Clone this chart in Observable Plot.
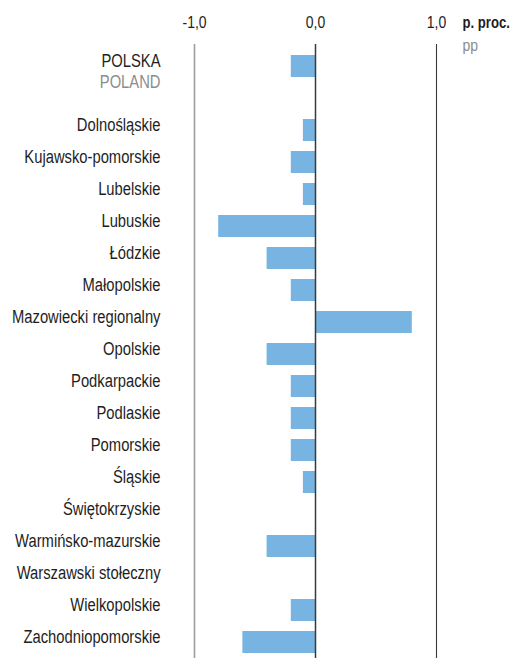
<!DOCTYPE html>
<html>
<head>
<meta charset="utf-8">
<script src="https://cdn.jsdelivr.net/npm/d3@7"></script>
<script src="https://cdn.jsdelivr.net/npm/@observablehq/plot@0.6"></script>
<style>
  html, body { margin: 0; padding: 0; background: #fff; }
  #chart svg { display: block; }
</style>
</head>
<body>
<div id="chart"></div>
<script>
const categories = ["POLSKA", " ", "Dolnośląskie", "Kujawsko-pomorskie", "Lubelskie", "Lubuskie", "Łódzkie",
  "Małopolskie", "Mazowiecki regionalny", "Opolskie", "Podkarpackie", "Podlaskie", "Pomorskie",
  "Śląskie", "Świętokrzyskie", "Warmińsko-mazurskie", "Warszawski stołeczny", "Wielkopolskie",
  "Zachodniopomorskie"];
const values = [-0.2, null, -0.1, -0.2, -0.1, -0.8, -0.4, -0.2, 0.8, -0.4, -0.2, -0.2, -0.2,
  -0.1, 0.0, -0.4, 0.0, -0.2, -0.6];
const xTicks = [-1, 0, 1];
const unitLabel = "p. proc.";
const unitLabelEn = "pp";
const polandLabel = "POLAND";

const data = categories.map((c, i) => ({name: c, value: values[i]})).filter(d => d.value != null && d.value !== 0);

const font = "'Liberation Sans', Arial, sans-serif";
const step = 32.5, pad = 0.323;
const r0 = 61 - step * (0.5 + pad / 2);
const r1 = r0 + step * (categories.length + pad);

const chart = Plot.plot({
  width: 512,
  height: 658,
  marginLeft: 194,
  marginRight: 76,
  marginTop: 44,
  marginBottom: 0,
  style: {fontFamily: font, fontSize: "17px", color: "#1e1e1e", background: "#fff"},
  x: {domain: [-1, 1], axis: null},
  y: {domain: categories, range: [r0, r1], padding: pad, axis: null},
  marks: [
    Plot.barX(data, {x: "value", y: "name", fill: "#77b4e2"}),
    Plot.ruleX([xTicks[0]], {stroke: "#9d9d9d", strokeWidth: 1.6}),
    Plot.ruleX([xTicks[1]], {stroke: "#3a3a3a", strokeWidth: 1.5}),
    Plot.ruleX([xTicks[2]], {stroke: "#3a3a3a", strokeWidth: 1.1}),
    Plot.axisX(xTicks, {anchor: "top", label: null, tickSize: 0, tickPadding: 17, fontSize: 17, fill: "#1e1e1e",
      tickFormat: d => d.toFixed(1).replace(".", ",")}),
    Plot.axisY({anchor: "left", label: null, tickSize: 0, tickPadding: 34, dy: -5, fontSize: 18, fill: "#1e1e1e"}),
    Plot.text([polandLabel], {y: () => "POLSKA", frameAnchor: "left", dx: -34, dy: 16,
      textAnchor: "end", fill: "#8c8c8c", fontSize: 18}),
    Plot.text([unitLabel], {x: () => xTicks[2], frameAnchor: "top", dx: 26, dy: -17,
      textAnchor: "start", lineAnchor: "bottom", fill: "#1e1e1e", fontSize: 16, fontWeight: "bold"}),
    Plot.text([unitLabelEn], {x: () => xTicks[2], frameAnchor: "top", dx: 26, dy: 6,
      textAnchor: "start", lineAnchor: "bottom", fill: "#8c8c8c", fontSize: 17})
  ]
});
document.getElementById("chart").appendChild(chart);
// emulate a condensed face: squeeze glyphs horizontally (Arial Narrow ≈ 82% of Arial)
chart.querySelectorAll("text").forEach(t => {
  const targets = t.querySelectorAll("tspan").length ? t.querySelectorAll("tspan") : [t];
  targets.forEach(el => {
    const len = el.getComputedTextLength();
    if (len > 0) {
      el.setAttribute("textLength", (len * 0.82).toFixed(2));
      el.setAttribute("lengthAdjust", "spacingAndGlyphs");
    }
  });
});
</script>
</body>
</html>
